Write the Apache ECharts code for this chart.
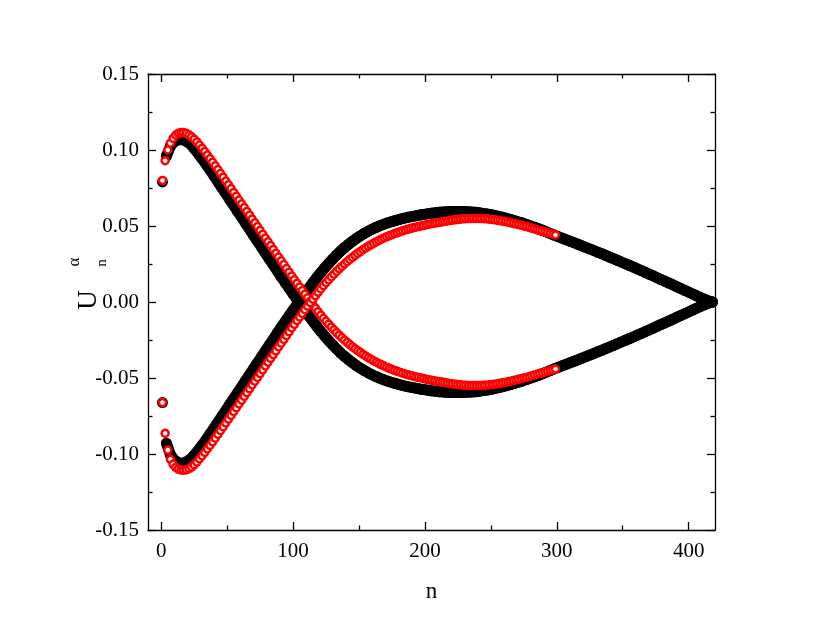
<!DOCTYPE html>
<html>
<head>
<meta charset="utf-8">
<script src="https://cdn.jsdelivr.net/npm/echarts@6/dist/echarts.min.js"></script>
<style>
html,body{margin:0;padding:0;background:#fff;}
#chart{width:830px;height:636px;}
</style>
</head>
<body>
<div id="chart"></div>
<script>
// n index of black points: blackStart, blackStart+blackStep, ...
const blackStart = 1, blackStep = 3;
// n index of red points: redStart, redStart+redStep, ...
const redStart = 1, redStep = 2;

const xMajorTicks = [0, 100, 200, 300, 400];
const xMinorTicks = [50, 150, 250, 350];
const yTickLabels = [-0.15, -0.10, -0.05, 0.00, 0.05, 0.10, 0.15];

const blackUpper = [
  0.0790, 0.0960, 0.1025, 0.1055, 0.1068, 0.1068, 0.1058, 0.1040, 0.1010, 0.0978,
  0.0943, 0.0907, 0.0869, 0.0831, 0.0792, 0.0752, 0.0714, 0.0674, 0.0636, 0.0596,
  0.0558, 0.0518, 0.0479, 0.0440, 0.0400, 0.0362, 0.0322, 0.0283, 0.0245, 0.0205,
  0.0166, 0.0129, 0.0091, 0.0054, 0.0017, -0.0018, -0.0055, -0.0091, -0.0126, -0.0160,
  -0.0193, -0.0224, -0.0254, -0.0282, -0.0309, -0.0334, -0.0357, -0.0379, -0.0399, -0.0418,
  -0.0435, -0.0451, -0.0466, -0.0479, -0.0491, -0.0502, -0.0512, -0.0521, -0.0529, -0.0537,
  -0.0544, -0.0551, -0.0557, -0.0562, -0.0567, -0.0572, -0.0576, -0.0580, -0.0584, -0.0587,
  -0.0590, -0.0592, -0.0594, -0.0595, -0.0596, -0.0596, -0.0595, -0.0594, -0.0592, -0.0590,
  -0.0587, -0.0583, -0.0579, -0.0574, -0.0569, -0.0563, -0.0557, -0.0550, -0.0543, -0.0535,
  -0.0527, -0.0519, -0.0510, -0.0501, -0.0492, -0.0482, -0.0472, -0.0462, -0.0451, -0.0440,
  -0.0430, -0.0420, -0.0410, -0.0400, -0.0390, -0.0380, -0.0370, -0.0360, -0.0349, -0.0339,
  -0.0328, -0.0318, -0.0307, -0.0296, -0.0285, -0.0274, -0.0263, -0.0252, -0.0241, -0.0230,
  -0.0218, -0.0207, -0.0195, -0.0184, -0.0172, -0.0160, -0.0148, -0.0137, -0.0125, -0.0113,
  -0.0101, -0.0089, -0.0077, -0.0065, -0.0053, -0.0041, -0.0029, -0.0018, -0.0007, 0.0000
];

const blackLower = [
  -0.0662, -0.0930, -0.1005, -0.1040, -0.1058, -0.1062, -0.1052, -0.1035, -0.1008, -0.0978,
  -0.0943, -0.0907, -0.0869, -0.0831, -0.0792, -0.0752, -0.0714, -0.0674, -0.0636, -0.0596,
  -0.0558, -0.0518, -0.0479, -0.0440, -0.0400, -0.0362, -0.0322, -0.0283, -0.0245, -0.0205,
  -0.0166, -0.0129, -0.0091, -0.0054, -0.0017, 0.0018, 0.0055, 0.0091, 0.0126, 0.0160,
  0.0193, 0.0224, 0.0254, 0.0282, 0.0309, 0.0334, 0.0357, 0.0379, 0.0399, 0.0418,
  0.0435, 0.0451, 0.0466, 0.0479, 0.0491, 0.0502, 0.0512, 0.0521, 0.0529, 0.0537,
  0.0544, 0.0551, 0.0557, 0.0562, 0.0567, 0.0572, 0.0576, 0.0580, 0.0584, 0.0587,
  0.0590, 0.0592, 0.0594, 0.0595, 0.0596, 0.0596, 0.0595, 0.0594, 0.0592, 0.0590,
  0.0587, 0.0583, 0.0579, 0.0574, 0.0569, 0.0563, 0.0557, 0.0550, 0.0543, 0.0535,
  0.0527, 0.0519, 0.0510, 0.0501, 0.0492, 0.0482, 0.0472, 0.0462, 0.0451, 0.0440,
  0.0430, 0.0420, 0.0410, 0.0400, 0.0390, 0.0380, 0.0370, 0.0360, 0.0349, 0.0339,
  0.0328, 0.0318, 0.0307, 0.0296, 0.0285, 0.0274, 0.0263, 0.0252, 0.0241, 0.0230,
  0.0218, 0.0207, 0.0195, 0.0184, 0.0172, 0.0160, 0.0148, 0.0137, 0.0125, 0.0113,
  0.0101, 0.0089, 0.0077, 0.0065, 0.0053, 0.0041, 0.0029, 0.0018, 0.0007, 0.0000
];

const redUpper = [
  0.0800, 0.0930, 0.1000, 0.1045, 0.1077, 0.1098, 0.1110, 0.1115, 0.1115, 0.1110,
  0.1100, 0.1087, 0.1071, 0.1053, 0.1033, 0.1012, 0.0990, 0.0967, 0.0944, 0.0920,
  0.0896, 0.0871, 0.0846, 0.0821, 0.0796, 0.0771, 0.0746, 0.0721, 0.0696, 0.0671,
  0.0646, 0.0621, 0.0596, 0.0571, 0.0546, 0.0521, 0.0496, 0.0471, 0.0446, 0.0421,
  0.0396, 0.0371, 0.0346, 0.0321, 0.0296, 0.0271, 0.0246, 0.0221, 0.0196, 0.0171,
  0.0147, 0.0123, 0.0099, 0.0075, 0.0051, 0.0028, 0.0005, -0.0018, -0.0041, -0.0064,
  -0.0086, -0.0107, -0.0127, -0.0146, -0.0165, -0.0183, -0.0201, -0.0218, -0.0234, -0.0250,
  -0.0265, -0.0280, -0.0294, -0.0307, -0.0320, -0.0332, -0.0344, -0.0355, -0.0366, -0.0376,
  -0.0386, -0.0395, -0.0404, -0.0413, -0.0421, -0.0429, -0.0436, -0.0443, -0.0450, -0.0456,
  -0.0462, -0.0468, -0.0473, -0.0478, -0.0483, -0.0488, -0.0492, -0.0496, -0.0500, -0.0504,
  -0.0508, -0.0512, -0.0515, -0.0518, -0.0521, -0.0524, -0.0527, -0.0530, -0.0533, -0.0536,
  -0.0539, -0.0541, -0.0543, -0.0545, -0.0547, -0.0548, -0.0549, -0.0550, -0.0550, -0.0550,
  -0.0550, -0.0549, -0.0548, -0.0547, -0.0545, -0.0543, -0.0541, -0.0538, -0.0535, -0.0532,
  -0.0529, -0.0525, -0.0521, -0.0517, -0.0513, -0.0509, -0.0505, -0.0500, -0.0496, -0.0491,
  -0.0486, -0.0481, -0.0476, -0.0471, -0.0466, -0.0461, -0.0456, -0.0451, -0.0446, -0.0441
];

const redLower = [
  -0.0662, -0.0864, -0.0974, -0.1035, -0.1068, -0.1088, -0.1100, -0.1106, -0.1107, -0.1104,
  -0.1097, -0.1086, -0.1071, -0.1053, -0.1033, -0.1012, -0.0990, -0.0967, -0.0944, -0.0920,
  -0.0896, -0.0871, -0.0846, -0.0821, -0.0796, -0.0771, -0.0746, -0.0721, -0.0696, -0.0671,
  -0.0646, -0.0621, -0.0596, -0.0571, -0.0546, -0.0521, -0.0496, -0.0471, -0.0446, -0.0421,
  -0.0396, -0.0371, -0.0346, -0.0321, -0.0296, -0.0271, -0.0246, -0.0221, -0.0196, -0.0171,
  -0.0147, -0.0123, -0.0099, -0.0075, -0.0051, -0.0028, -0.0005, 0.0018, 0.0041, 0.0064,
  0.0086, 0.0107, 0.0127, 0.0146, 0.0165, 0.0183, 0.0201, 0.0218, 0.0234, 0.0250,
  0.0265, 0.0280, 0.0294, 0.0307, 0.0320, 0.0332, 0.0344, 0.0355, 0.0366, 0.0376,
  0.0386, 0.0395, 0.0404, 0.0413, 0.0421, 0.0429, 0.0436, 0.0443, 0.0450, 0.0456,
  0.0462, 0.0468, 0.0473, 0.0478, 0.0483, 0.0488, 0.0492, 0.0496, 0.0500, 0.0504,
  0.0508, 0.0512, 0.0515, 0.0518, 0.0521, 0.0524, 0.0527, 0.0530, 0.0533, 0.0536,
  0.0539, 0.0541, 0.0543, 0.0545, 0.0547, 0.0548, 0.0549, 0.0550, 0.0550, 0.0550,
  0.0550, 0.0549, 0.0548, 0.0547, 0.0545, 0.0543, 0.0541, 0.0538, 0.0535, 0.0532,
  0.0529, 0.0525, 0.0521, 0.0517, 0.0513, 0.0509, 0.0505, 0.0500, 0.0496, 0.0491,
  0.0486, 0.0481, 0.0476, 0.0471, 0.0466, 0.0461, 0.0456, 0.0451, 0.0446, 0.0441
];

function pairs(values, start, step) {
  return values.map((v, i) => [start + i * step, v]);
}

const FONT = 'Liberation Serif, Times New Roman, serif';
const chart = echarts.init(document.getElementById('chart'), null, { renderer: 'canvas' });

const gridPos = { left: 148, right: 115, top: 74, bottom: 106 };
const axisLine = { show: true, onZero: false, lineStyle: { color: '#000', width: 1.3 } };

function xMajor(position, withLabels) {
  return {
    type: 'value', gridIndex: 0, position: position, min: -10, max: 420,
    axisLine: axisLine,
    axisTick: { show: true, inside: true, length: 8, customValues: xMajorTicks, lineStyle: { color: '#000', width: 1.3 } },
    axisLabel: withLabels ? { show: true, customValues: xMajorTicks, color: '#000', fontFamily: FONT, fontSize: 21, margin: 11 } : { show: false },
    splitLine: { show: false },
    name: withLabels ? 'n' : '',
    nameLocation: 'middle', nameGap: 50,
    nameTextStyle: { color: '#000', fontFamily: FONT, fontSize: 23 }
  };
}
function xMinor(position) {
  return {
    type: 'value', gridIndex: 1, position: position, min: -10, max: 420,
    axisLine: { show: false, onZero: false },
    axisTick: { show: true, inside: true, length: 4.5, customValues: xMinorTicks, lineStyle: { color: '#000', width: 1.3 } },
    axisLabel: { show: false },
    splitLine: { show: false }
  };
}
function yMain(position, withLabels) {
  return {
    type: 'value', gridIndex: 0, position: position, min: -0.15, max: 0.15, interval: 0.05,
    axisLine: axisLine,
    axisTick: { show: true, inside: true, length: 8, lineStyle: { color: '#000', width: 1.3 } },
    minorTick: { show: true, splitNumber: 2, length: 4.5, lineStyle: { color: '#000', width: 1.3 } },
    axisLabel: withLabels ? {
      show: true, color: '#000', fontFamily: FONT, fontSize: 21, margin: 9,
      customValues: yTickLabels,
      formatter: v => v.toFixed(2)
    } : { show: false },
    splitLine: { show: false },
    minorSplitLine: { show: false }
  };
}

// black: dense filled dots (scatter) + the band they form (line from the 2nd point on)
const blackDots = {
  type: 'scatter', xAxisIndex: 0, yAxisIndex: 0,
  symbol: 'circle', symbolSize: 11,
  itemStyle: { color: '#000', opacity: 1 },
  silent: true, z: 2
};
const blackBand = {
  type: 'line', xAxisIndex: 0, yAxisIndex: 0,
  symbol: 'none', showSymbol: false,
  lineStyle: { color: '#000', width: 11, cap: 'round', join: 'round' },
  silent: true, z: 2
};
const redStyle = {
  type: 'scatter', xAxisIndex: 0, yAxisIndex: 0,
  symbol: 'circle', symbolSize: 7,
  itemStyle: { color: '#fff', borderColor: '#ff0000', borderWidth: 2.5, opacity: 1 },
  silent: true, z: 3
};

const upperPts = pairs(blackUpper, blackStart, blackStep);
const lowerPts = pairs(blackLower, blackStart, blackStep);

const option = {
  animation: false,
  backgroundColor: '#fff',
  grid: [
    Object.assign({}, gridPos),
    Object.assign({}, gridPos)
  ],
  xAxis: [xMajor('bottom', true), xMajor('top', false), xMinor('bottom'), xMinor('top')],
  yAxis: [yMain('left', true), yMain('right', false),
    { type: 'value', gridIndex: 1, min: -0.15, max: 0.15, show: false },
    { type: 'value', gridIndex: 1, min: -0.15, max: 0.15, show: false, position: 'right' }],
  graphic: [
    { type: 'text', x: 89, y: 300, rotation: Math.PI / 2,
      style: { text: 'U', fill: '#000', font: '27px ' + FONT, align: 'center', verticalAlign: 'middle' } },
    { type: 'text', x: 75, y: 262, rotation: Math.PI / 2,
      style: { text: 'α', fill: '#000', font: '17px ' + FONT, align: 'center', verticalAlign: 'middle' } },
    { type: 'text', x: 102, y: 263, rotation: Math.PI / 2,
      style: { text: 'n', fill: '#000', font: '15px ' + FONT, align: 'center', verticalAlign: 'middle' } }
  ],
  series: [
    Object.assign({ data: upperPts }, blackDots),
    Object.assign({ data: lowerPts }, blackDots),
    Object.assign({ data: upperPts.slice(1) }, blackBand),
    Object.assign({ data: lowerPts.slice(1) }, blackBand),
    Object.assign({ data: pairs(redUpper, redStart, redStep) }, redStyle),
    Object.assign({ data: pairs(redLower, redStart, redStep) }, redStyle)
  ]
};
chart.setOption(option);
</script>
</body>
</html>
